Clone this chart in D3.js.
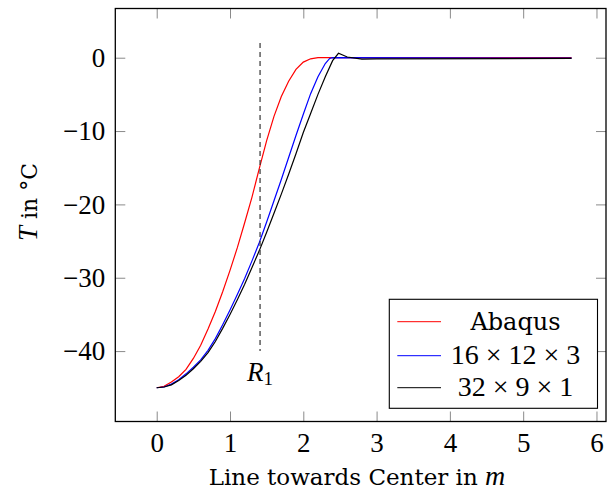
<!DOCTYPE html>
<html>
<head>
<meta charset="utf-8">
<script src="https://cdn.jsdelivr.net/npm/d3@7"></script>
<style>
  body { margin: 0; background: #fff; }
  text { font-family: "Liberation Serif", serif; fill: #000; }
  .word { font-family: "DejaVu Serif", serif; }
</style>
</head>
<body>
<svg id="chart" width="607" height="496"></svg>
<script>
// series data (T in °C along the line towards the center)
const abaqusX = [0, 0.1, 0.2, 0.3, 0.4, 0.5, 0.6, 0.7, 0.8, 0.9, 1.0, 1.1, 1.2, 1.3, 1.4, 1.5, 1.6, 1.7, 1.8, 1.9, 2.0, 2.1, 2.2, 2.5, 5.66];
const abaqusT = [-45, -44.8, -44.2, -43.5, -42.5, -41.0, -39.2, -37.0, -34.6, -31.9, -29.0, -25.9, -22.5, -19.0, -15.1, -11.3, -8.0, -5.3, -3.2, -1.6, -0.6, -0.15, 0, 0, 0];

const mesh1X = [0, 0.1, 0.2, 0.3, 0.4, 0.5, 0.6, 0.7, 0.8, 0.9, 1.0, 1.1, 1.2, 1.3, 1.4, 1.5, 1.6, 1.7, 1.8, 1.9, 2.0, 2.1, 2.2, 2.3, 2.36, 2.4, 5.66];
const mesh1T = [-45, -44.9, -44.5, -43.9, -43.1, -42.2, -41.2, -39.9, -38.3, -36.4, -34.4, -32.3, -30.1, -27.7, -25.2, -22.4, -19.5, -16.6, -13.6, -10.6, -7.7, -4.9, -2.6, -0.8, -0.1, 0, -0.05];

const mesh2X = [0, 0.1, 0.2, 0.3, 0.4, 0.5, 0.6, 0.7, 0.8, 0.9, 1.0, 1.1, 1.2, 1.3, 1.4, 1.5, 1.6, 1.7, 1.8, 1.9, 2.0, 2.1, 2.2, 2.3, 2.4, 2.48, 2.6, 2.8, 3.0, 5.66];
const mesh2T = [-45, -44.9, -44.6, -44.0, -43.3, -42.4, -41.4, -40.2, -38.7, -36.9, -35.0, -33.0, -30.9, -28.6, -26.3, -23.8, -21.2, -18.6, -15.9, -13.1, -10.2, -7.6, -5.0, -2.6, -0.4, 0.6, 0.1, -0.2, -0.15, -0.1];

const seriesNames = ["Abaqus", "16 × 12 × 3", "32 × 9 × 1"];
const seriesColors = ["#ff0000", "#0000ff", "#000000"];

const xTicks = [0, 1, 2, 3, 4, 5, 6];
const yTicks = [0, -10, -20, -30, -40];

const r1X = 1.41;
const r1Range = [2, -40];

const svg = d3.select("svg#chart");
const plotL = 115.3, plotR = 606, plotT = 8.5, plotB = 421.5;

const xScale = d3.scaleLinear().domain([-0.565, 6.13]).range([plotL, plotR]);
const yScale = d3.scaleLinear().domain([-49.6, 6.71]).range([plotB, plotT]);

const fmt = d => d < 0 ? "\u2212" + Math.abs(d) : String(d);

// ticks on all four sides, pointing in
const tickLen = 10;
const tickCol = "#8a8a8a";
svg.append("g")
    .attr("transform", `translate(0, ${plotB})`)
    .call(d3.axisBottom(xScale).tickValues(xTicks).tickSize(-tickLen).tickPadding(10).tickFormat(fmt))
    .call(g => g.select(".domain").remove())
    .call(g => g.selectAll("line").attr("stroke", tickCol))
    .call(g => g.selectAll("text").attr("font-size", 27).attr("font-family", "Liberation Serif").attr("dy", "0.75em"));
svg.append("g")
    .attr("transform", `translate(0, ${plotT})`)
    .call(d3.axisTop(xScale).tickValues(xTicks).tickSize(-tickLen).tickFormat(""))
    .call(g => g.select(".domain").remove())
    .call(g => g.selectAll("line").attr("stroke", tickCol));
svg.append("g")
    .attr("transform", `translate(${plotL}, 0)`)
    .call(d3.axisLeft(yScale).tickValues(yTicks).tickSize(-tickLen).tickPadding(10).tickFormat(fmt))
    .call(g => g.select(".domain").remove())
    .call(g => g.selectAll("line").attr("stroke", tickCol))
    .call(g => g.selectAll("text").attr("font-size", 27).attr("font-family", "Liberation Serif"));
svg.append("g")
    .attr("transform", `translate(${plotR}, 0)`)
    .call(d3.axisRight(yScale).tickValues(yTicks).tickSize(-tickLen).tickFormat(""))
    .call(g => g.select(".domain").remove())
    .call(g => g.selectAll("line").attr("stroke", tickCol));

// curves
const line = d3.line().x(d => xScale(d[0])).y(d => yScale(d[1]));
const series = [
    d3.zip(abaqusX, abaqusT),
    d3.zip(mesh1X, mesh1T),
    d3.zip(mesh2X, mesh2T)
];
svg.append("g").selectAll("path")
    .data(series)
    .enter()
    .append("path")
    .attr("d", line)
    .attr("fill", "none")
    .attr("stroke", (d, i) => seriesColors[i])
    .attr("stroke-width", 1.2);

// R1 marker
svg.append("line")
    .attr("x1", xScale(r1X)).attr("x2", xScale(r1X))
    .attr("y1", yScale(r1Range[0])).attr("y2", yScale(r1Range[1]))
    .attr("stroke", "#333")
    .attr("stroke-width", 1.2)
    .attr("stroke-dasharray", "5,4");
const r1 = svg.append("text")
    .attr("x", xScale(r1X))
    .attr("y", yScale(r1Range[1]) + 30)
    .attr("text-anchor", "middle")
    .attr("font-size", 27);
r1.append("tspan").attr("font-style", "italic").text("R");
r1.append("tspan").attr("font-size", 19).attr("dy", 4).text("1");

// frame
svg.append("rect")
    .attr("x", plotL).attr("y", plotT)
    .attr("width", plotR - plotL).attr("height", plotB - plotT)
    .attr("fill", "none")
    .attr("stroke", "#000")
    .attr("stroke-width", 1.3);

// legend
const legend = svg.append("g");
legend.append("rect")
    .attr("x", 389.3).attr("y", 299.3)
    .attr("width", 208.2).attr("height", 109)
    .attr("fill", "#fff")
    .attr("stroke", "#000")
    .attr("stroke-width", 1.1);
const rowY = [321.7, 355.7, 387.7];
const entries = legend.selectAll("g.entry")
    .data(seriesNames)
    .enter()
    .append("g")
    .attr("class", "entry")
    .attr("transform", (d, i) => `translate(0, ${rowY[i]})`);
entries.append("line")
    .attr("x1", 397.3).attr("x2", 441)
    .attr("stroke", (d, i) => seriesColors[i])
    .attr("stroke-width", 1);
entries.append("text")
    .attr("class", (d, i) => i === 0 ? "word" : null)
    .attr("x", 515.5)
    .attr("y", 8.5)
    .attr("text-anchor", "middle")
    .attr("font-size", (d, i) => i === 0 ? 24 : 28)
    .text(d => d);

// axis labels
const xl = svg.append("text")
    .attr("x", 357)
    .attr("y", 485)
    .attr("text-anchor", "middle")
    .attr("font-size", 23);
xl.append("tspan").attr("class", "word").text("Line towards Center in ");
xl.append("tspan").attr("font-style", "italic").attr("font-size", 28).text("m");

const yl = svg.append("text")
    .attr("transform", "translate(37, 202) rotate(-90)")
    .attr("text-anchor", "middle")
    .attr("font-size", 22);
yl.append("tspan").attr("font-style", "italic").attr("font-size", 27).text("T");
yl.append("tspan").attr("class", "word").text(" in °C");
</script>
</body>
</html>
